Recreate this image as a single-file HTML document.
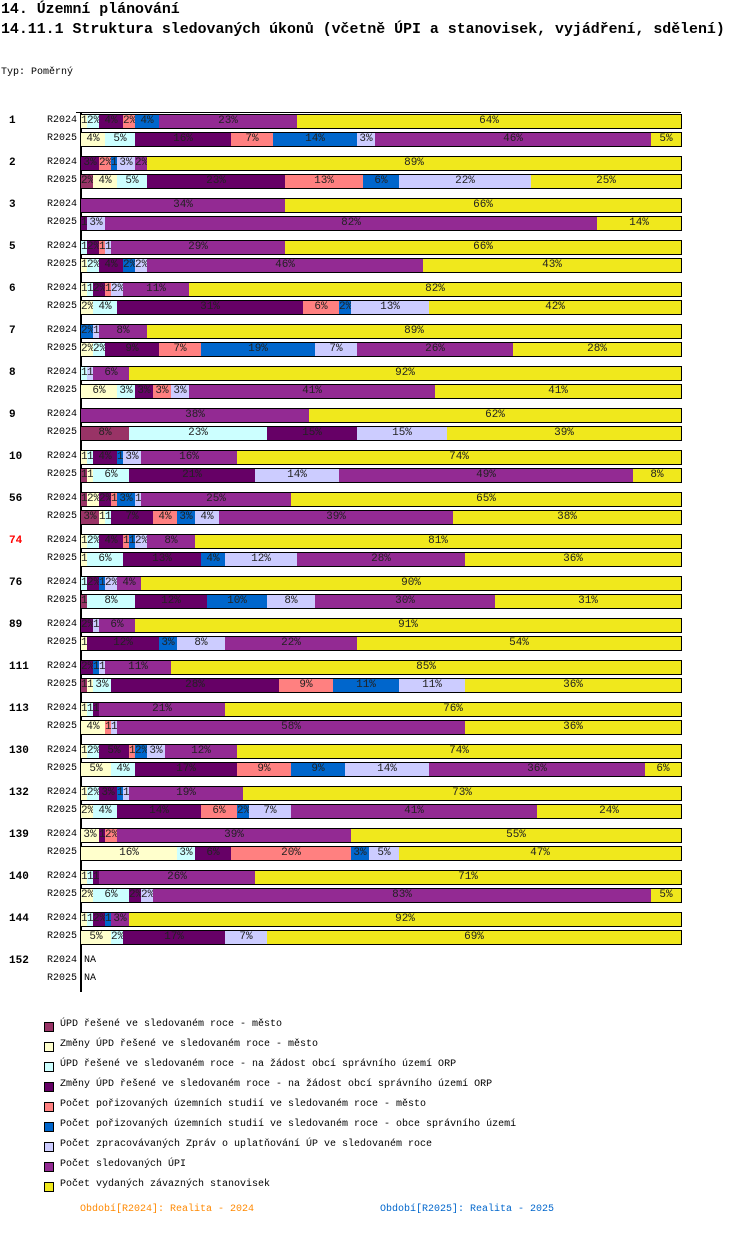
<!DOCTYPE html>
<html><head><meta charset="utf-8">
<style>
body{margin:0;background:#fff;width:750px;height:1246px;position:relative;overflow:hidden;font-family:"Liberation Mono",monospace;}
.t{position:absolute;white-space:nowrap;color:#000;}
.h{font-size:14.9px;font-weight:bold;left:1px;}
.seg{position:absolute;height:15px;box-sizing:border-box;border:1px solid #000;border-left:none;overflow:hidden;font-size:11px;line-height:13px;text-align:center;color:#222;}
.gl{font-size:11px;font-weight:bold;left:9px;}
.rl{font-size:10px;left:47px;}
.lg{font-size:10px;left:60px;}
.sq{position:absolute;left:44px;width:8px;height:8px;border:1px solid #000;}
</style></head><body>
<div class="t h" style="top:2px">14. Územní plánování</div>
<div class="t h" style="top:22px">14.11.1 Struktura sledovaných úkonů (včetně ÚPI a stanovisek, vyjádření, sdělení)</div>
<div class="t" style="top:67px;left:1px;font-size:10px">Typ: Poměrný</div>
<div id="chart"></div>
<div id="legend"></div>
<div class="t" style="top:1204px;left:80px;font-size:10px;color:#ff8800">Období[R2024]: Realita - 2024</div>
<div class="t" style="top:1204px;left:380px;font-size:10px;color:#0066cc">Období[R2025]: Realita - 2025</div>
<script>
const groups=["1","2","3","5","6","7","8","9","10","56","74","76","89","111","113","130","132","139","140","144","152"];
const periods=["R2024","R2025"];
const seriesNames=["ÚPD řešené ve sledovaném roce - město","Změny ÚPD řešené ve sledovaném roce - město","ÚPD řešené ve sledovaném roce - na žádost obcí správního území ORP","Změny ÚPD řešené ve sledovaném roce - na žádost obcí správního území ORP","Počet pořizovaných územních studií ve sledovaném roce - město","Počet pořizovaných územních studií ve sledovaném roce - obce správního území","Počet zpracovávaných Zpráv o uplatňování ÚP ve sledovaném roce","Počet sledovaných ÚPI","Počet vydaných závazných stanovisek"];
const colors=["#993366","#ffffcc","#ccffff","#660066","#ff8080","#0066cc","#ccccff","#932a93","#f0e81c"];
const v2024=[
[0,1,2,4,2,4,0,23,64],[0,0,0,3,2,1,3,2,89],[0,0,0,0,0,0,0,34,66],[0,0,1,2,1,0,1,29,66],
[0,1,1,2,1,0,2,11,82],[0,0,0,0,0,2,1,8,89],[0,0,1,0,0,0,1,6,92],[0,0,0,0,0,0,0,38,62],
[0,1,1,4,0,1,3,16,74],[1,2,0,2,1,3,1,25,65],[0,1,2,4,1,1,2,8,81],[0,0,1,2,0,1,2,4,90],
[0,0,0,2,0,0,1,6,91],[0,0,0,2,0,1,1,11,85],[0,1,1,1,0,0,0,21,76],[0,1,2,5,1,2,3,12,74],
[0,1,2,3,0,1,1,19,73],[0,3,0,1,2,0,0,39,55],[0,1,1,1,0,0,0,26,71],[0,1,1,2,0,1,0,3,92],null];
const v2025=[
[0,4,5,16,7,14,3,46,5],[2,4,5,23,13,6,22,0,25],[0,0,0,1,0,0,3,82,14],[0,1,2,4,0,2,2,46,43],
[0,2,4,31,6,2,13,0,42],[0,2,2,9,7,19,7,26,28],[0,6,3,3,3,0,3,41,41],[8,0,23,15,0,0,15,0,39],
[1,1,6,21,0,0,14,49,8],[3,1,1,7,4,3,4,39,38],[0,1,6,13,0,4,12,28,36],[1,0,8,12,0,10,8,30,31],
[0,1,0,12,0,3,8,22,54],[1,1,3,28,9,11,11,0,36],[0,4,0,0,1,0,1,58,36],[0,5,4,17,9,9,14,36,6],
[0,2,4,14,6,2,7,41,24],[0,16,3,6,20,3,5,0,47],[0,2,6,2,0,0,2,83,5],[0,5,2,17,0,0,7,0,69],null];
const X0=81,W=600,Y0=114,GAP=42,RH=18;
const xs=p=>X0+p/100*W;
const chart=document.getElementById('chart');
const axis=document.createElement('div');


axis.style.cssText='position:absolute;left:80px;top:112px;width:2px;height:880px;background:#000';
chart.appendChild(axis);
const topLine=document.createElement('div');


topLine.style.cssText='position:absolute;left:76px;top:112px;width:605px;height:1px;background:#000';
chart.appendChild(topLine);
groups.forEach((g,gi)=>{
  const gy=Y0+gi*GAP;
  const gl=document.createElement('div');
  gl.className='t gl';
  
  
  gl.style.top=(gy+1)+'px';
  if(g==='74')gl.style.color='#ff0000';
  gl.textContent=g;chart.appendChild(gl);
  [v2024,v2025].forEach((arr,pi)=>{
    const y=gy+pi*RH;
    const rl=document.createElement('div');
    rl.className='t rl';
    
    
    rl.style.top=(y+1)+'px';rl.textContent=periods[pi];chart.appendChild(rl);
    const vals=arr[gi];
    if(!vals){
      const na=document.createElement('div');
      na.className='t rl';
      
      
      na.style.top=(y+1)+'px';na.style.left='84px';na.textContent='NA';chart.appendChild(na);return;
    }
    let acc=0;
    vals.forEach((v,si)=>{
      if(v<=0)return;
      const s=document.createElement('div');
      s.className='seg';
      
      
      const x1=xs(acc),x2=xs(acc+v);
      s.style.left=x1+'px';s.style.width=(x2-x1+1)+'px';s.style.top=y+'px';
      s.style.background=colors[si];
      s.textContent=v+'%';
      s.title=seriesNames[si];
      chart.appendChild(s);acc+=v;
    });
  });
});
const legend=document.getElementById('legend');
seriesNames.forEach((n,i)=>{
  const y=1022+i*20;
  const sq=document.createElement('div');
  sq.className='sq';
  
  
  sq.style.top=y+'px';sq.style.background=colors[i];legend.appendChild(sq);
  const t=document.createElement('div');
  t.className='t lg';
  
  
  t.style.top=(y-3)+'px';t.textContent=n;legend.appendChild(t);
});
</script>
</body></html>
